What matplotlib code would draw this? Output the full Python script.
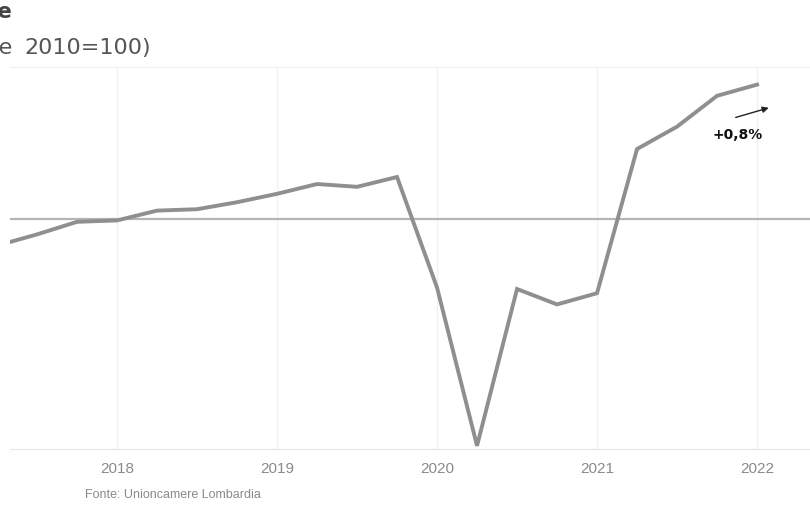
import matplotlib
matplotlib.use("Agg")
import matplotlib.pyplot as plt

# Quarterly index (2010=100)
quarters = ["2017Q2", "2017Q3", "2017Q4",
            "2018Q1", "2018Q2", "2018Q3", "2018Q4",
            "2019Q1", "2019Q2", "2019Q3", "2019Q4",
            "2020Q1", "2020Q2", "2020Q3", "2020Q4",
            "2021Q1", "2021Q2", "2021Q3", "2021Q4",
            "2022Q1"]
values = [98.1, 98.9, 99.8,
          99.9, 100.6, 100.7, 101.2,
          101.8, 102.5, 102.3, 103.0,
          95.1, 83.8, 95.0, 93.9,
          94.7, 105.0, 106.6, 108.8,
          109.6]
year_ticks = [2018, 2019, 2020, 2021, 2022]
year_labels = ["2018", "2019", "2020", "2021", "2022"]
reference_level = 100
annotation_text = "+0,8%"

x = [int(q[:4]) + (int(q[-1]) - 1) / 4 for q in quarters]

fig = plt.figure(figsize=(8.10, 5.06), dpi=100)
fig.patch.set_facecolor("white")
ax = fig.add_axes([10 / 810, 56 / 506, 800 / 810, 382 / 506])

ax.set_xlim(2017.331, 2022.331)
ax.set_ylim(83.57, 110.86)

for yt in year_ticks:
    ax.axvline(yt, color="#f2f2f2", lw=1.0, zorder=0)
ax.axhline(reference_level, color="#b5b5b5", lw=1.6, zorder=1)

ax.plot(x, values, color="#8f8f8f", lw=2.8, solid_joinstyle="miter", zorder=3)

ax.set_xticks(year_ticks)
ax.set_xticklabels(year_labels, fontsize=11, color="#8a8a8a", family="Liberation Sans")
ax.tick_params(axis="x", length=0, pad=9)
ax.set_yticks([])
for s in ["left", "right"]:
    ax.spines[s].set_visible(False)
ax.spines["top"].set_color("#eeeeee")
ax.spines["bottom"].set_color("#e6e6e6")

# annotation arrow and label
ax.annotate("", xy=(2022.09, 108.0), xytext=(2021.85, 107.2),
            arrowprops=dict(arrowstyle="-|>", color="#222222", lw=1.0,
                            mutation_scale=9))
ax.text(2021.88, 106.1, annotation_text, fontsize=10, fontweight="bold",
        color="#111111", ha="center", va="center")

# title fragments (clipped at left like the reference)
fig.text(12 / 810, 1 - 12 / 506, "Produzione industriale", ha="right", va="center",
         fontsize=15, fontweight="bold", color="#444444")
fig.text(12 / 810, 1 - 48 / 506, "(indice", ha="right", va="center",
         fontsize=16, color="#555555")
fig.text(24 / 810, 1 - 48 / 506, "2010=100)", ha="left", va="center",
         fontsize=16, color="#555555")

fig.text(85 / 810, 1 - 495 / 506, "Fonte: Unioncamere Lombardia", ha="left",
         va="center", fontsize=9, color="#8a8a8a", family="Liberation Sans")

fig.savefig("out.png", dpi=100)
